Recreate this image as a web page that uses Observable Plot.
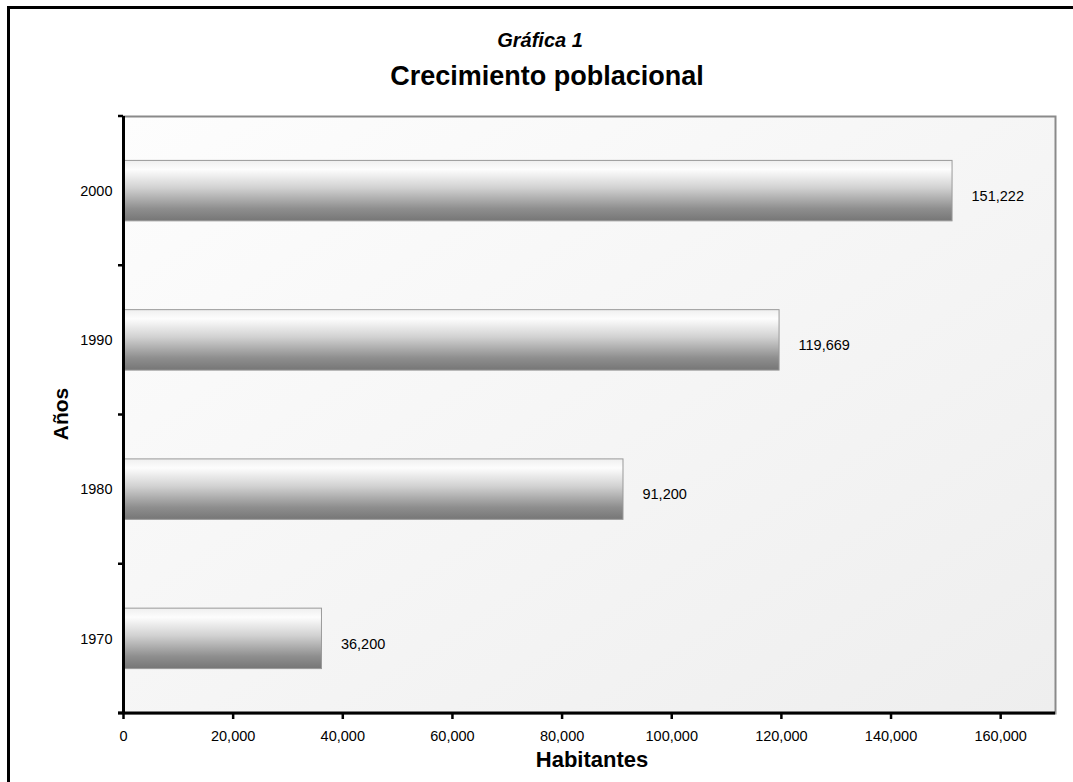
<!DOCTYPE html>
<html>
<head>
<meta charset="utf-8">
<script src="https://cdn.jsdelivr.net/npm/d3@7"></script>
<script src="https://cdn.jsdelivr.net/npm/@observablehq/plot@0.6"></script>
<style>
  body { margin: 0; background: #fff; font-family: "Liberation Sans", Arial, sans-serif; }
  #page { position: relative; width: 1073px; height: 782px; overflow: hidden; background: #fff; }
  #frame { position: absolute; left: 7px; top: 6px; width: 1200px; height: 900px; border: 3px solid #000; }
  .t { position: absolute; white-space: nowrap; line-height: 1; color: #000; font-weight: bold; transform: translateX(-50%); }
  #plot { position: absolute; left: 0; top: 100px; }
</style>
</head>
<body>
<div id="page">
  <div id="frame"></div>
  <div class="t" id="sub" style="left:540px;top:30px;font-size:20px;font-style:italic;">Gráfica 1</div>
  <div class="t" id="title" style="left:547px;top:63px;font-size:27px;">Crecimiento poblacional</div>
  <div class="t" id="ylabel" style="left:59.5px;top:414px;font-size:21px;transform:translate(-50%,-50%) rotate(-90deg);">Años</div>
  <div class="t" id="xlabel" style="left:592px;top:749px;font-size:22px;">Habitantes</div>
  <div id="plot"></div>
</div>
<script>
// Data
const years = ["2000", "1990", "1980", "1970"];
const habitantes = [151222, 119669, 91200, 36200];
const xTicks = [0, 20000, 40000, 60000, 80000, 100000, 120000, 140000, 160000];
const xMax = 170000;

const data = years.map((y, i) => ({ year: y, value: habitantes[i] }));
const fmt = d3.format(",");

const chart = Plot.plot({
  width: 1073,
  height: 682,
  marginTop: 16,
  marginBottom: 69,
  marginLeft: 123,
  marginRight: 18,
  style: { fontFamily: '"Liberation Sans", Arial, sans-serif', fontSize: "14.5px", background: "transparent", color: "#000" },
  x: { domain: [0, xMax] },
  y: { domain: years, paddingInner: 0.595, paddingOuter: 0.2975, round: false },
  marks: [
    Plot.frame({ fill: "url(#bgGrad)", stroke: "#8a8a8a", strokeWidth: 2 }),
    Plot.barX(data, { x: "value", y: "year", fill: "url(#barGrad)", stroke: "#9a9a9a", strokeWidth: 1 }),
    Plot.text(data, { x: "value", y: "year", text: d => fmt(d.value), dx: 19, dy: 5, textAnchor: "start", fill: "#000", fontSize: 14.5 }),
    Plot.ruleX([0], { stroke: "#000", strokeWidth: 3 }),
    Plot.axisX({ ticks: xTicks, tickFormat: fmt, tickSize: 6, tickPadding: 11, label: null, stroke: "#000", strokeWidth: 2.5 }),
    Plot.axisY({ tickSize: 0, tickPadding: 11, label: null })
  ]
});

document.getElementById("plot").appendChild(chart);

// Gradients
const svg = d3.select(chart);
const defs = svg.insert("defs", ":first-child");
const bar = defs.append("linearGradient").attr("id", "barGrad").attr("x1", 0).attr("y1", 0).attr("x2", 0).attr("y2", 1);
[[0, "#efefef"], [0.15, "#fdfdfd"], [0.45, "#d2d2d2"], [0.8, "#8e8e8e"], [1, "#767676"]]
  .forEach(([o, c]) => bar.append("stop").attr("offset", o).attr("stop-color", c));
const bg = defs.append("linearGradient").attr("id", "bgGrad").attr("x1", 0).attr("y1", 0).attr("x2", 1).attr("y2", 1);
[[0, "#fdfdfd"], [1, "#eeeeee"]].forEach(([o, c]) => bg.append("stop").attr("offset", o).attr("stop-color", c));

// Axis lines and category boundary ticks (from the scales)
const xs = chart.scale("x");
const ys = chart.scale("y");
const x0 = xs.apply(0);
const x1 = xs.apply(xMax);
const yTop = Math.min(...ys.range);
const yBot = Math.max(...ys.range);
const g = svg.append("g");
g.append("line").attr("x1", x0 - 5).attr("x2", x1).attr("y1", yBot).attr("y2", yBot)
  .attr("stroke", "#000").attr("stroke-width", 3);
const step = (yBot - yTop) / (years.length - ys.paddingInner + 2 * ys.paddingOuter);
const gap = (step - ys.bandwidth) / 2;
const bounds = years.map(y => ys.apply(y) - gap).concat([ys.apply(years[years.length - 1]) + ys.bandwidth + gap]);
bounds.forEach(b => {
  g.append("line").attr("x1", x0 - 5).attr("x2", x0).attr("y1", b).attr("y2", b)
    .attr("stroke", "#000").attr("stroke-width", 2.5);
});
</script>
</body>
</html>
